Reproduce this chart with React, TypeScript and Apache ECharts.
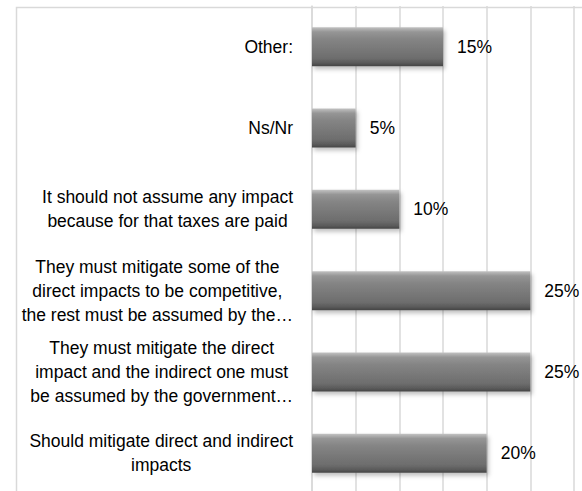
import React, { useEffect, useRef } from "react";
import * as echarts from "echarts";

const categories = [
  "Should mitigate direct and indirect\nimpacts",
  "They must mitigate the direct\nimpact and the indirect one must\nbe assumed by the government…",
  "They must mitigate some of the\ndirect impacts to be competitive,\nthe rest must be assumed by the…",
  "It should not assume any impact\nbecause for that taxes are paid",
  "Ns/Nr",
  "Other:",
];
const values = [20, 25, 25, 10, 5, 15];
const xTicks = [0, 5, 10, 15, 20, 25, 30];

const FONT = "'Liberation Sans', Arial, sans-serif";

export default function App() {
  const ref = useRef<HTMLDivElement>(null);
  useEffect(() => {
    if (!ref.current) return;
    const chart = echarts.init(ref.current, undefined, { renderer: "svg" });
    chart.setOption({
      animation: false,
      backgroundColor: "#ffffff",
      graphic: [
        {
          type: "rect",
          left: 14,
          top: 5,
          shape: { width: 700, height: 700 },
          style: { fill: "none", stroke: "#d9d9d9", lineWidth: 1.5 },
          z: -1,
        },
      ],
      grid: {
        left: 312,
        top: 6,
        width: 262,
        height: 488,
        containLabel: false,
        outerBoundsMode: "none",
      },
      xAxis: {
        type: "value",
        min: xTicks[0],
        max: xTicks[xTicks.length - 1],
        interval: 5,
        axisLabel: { show: false },
        axisLine: { show: false },
        axisTick: { show: false },
        splitLine: { show: true, lineStyle: { color: "#d9d9d9", width: 1.5 } },
      },
      yAxis: {
        type: "category",
        data: categories,
        axisLine: { show: true, lineStyle: { color: "#d9d9d9", width: 1.5 } },
        axisTick: { show: false },
        axisLabel: {
          margin: 19,
          formatter: (v: string) => v.split("\n").map((l) => `{c|${l}}`).join("\n"),
          rich: {
            c: {
              align: "center",
              fontFamily: FONT,
              fontSize: 17.5,
              lineHeight: 24,
              color: "#000",
            },
          },
        },
      },
      series: [
        {
          type: "bar",
          data: values,
          barWidth: 39,
          itemStyle: {
            color: new echarts.graphic.LinearGradient(0, 0, 0, 1, [
              { offset: 0, color: "#c2c2c2" },
              { offset: 0.12, color: "#969696" },
              { offset: 0.3, color: "#858585" },
              { offset: 0.8, color: "#6d6d6d" },
              { offset: 0.92, color: "#5a5a5a" },
              { offset: 1, color: "#444444" },
            ]),
            shadowColor: "rgba(0,0,0,0.25)",
            shadowBlur: 4,
            shadowOffsetX: 2,
            shadowOffsetY: 3,
          },
          label: {
            show: true,
            position: "right",
            distance: 14,
            formatter: (p: any) => `${p.value}%`,
            fontFamily: FONT,
            fontSize: 17.5,
            color: "#000",
          },
        },
      ],
    });
    return () => chart.dispose();
  }, []);
  return (
    <div
      ref={ref}
      style={{ position: "fixed", left: 0, top: 0, width: 582, height: 491 }}
    />
  );
}
